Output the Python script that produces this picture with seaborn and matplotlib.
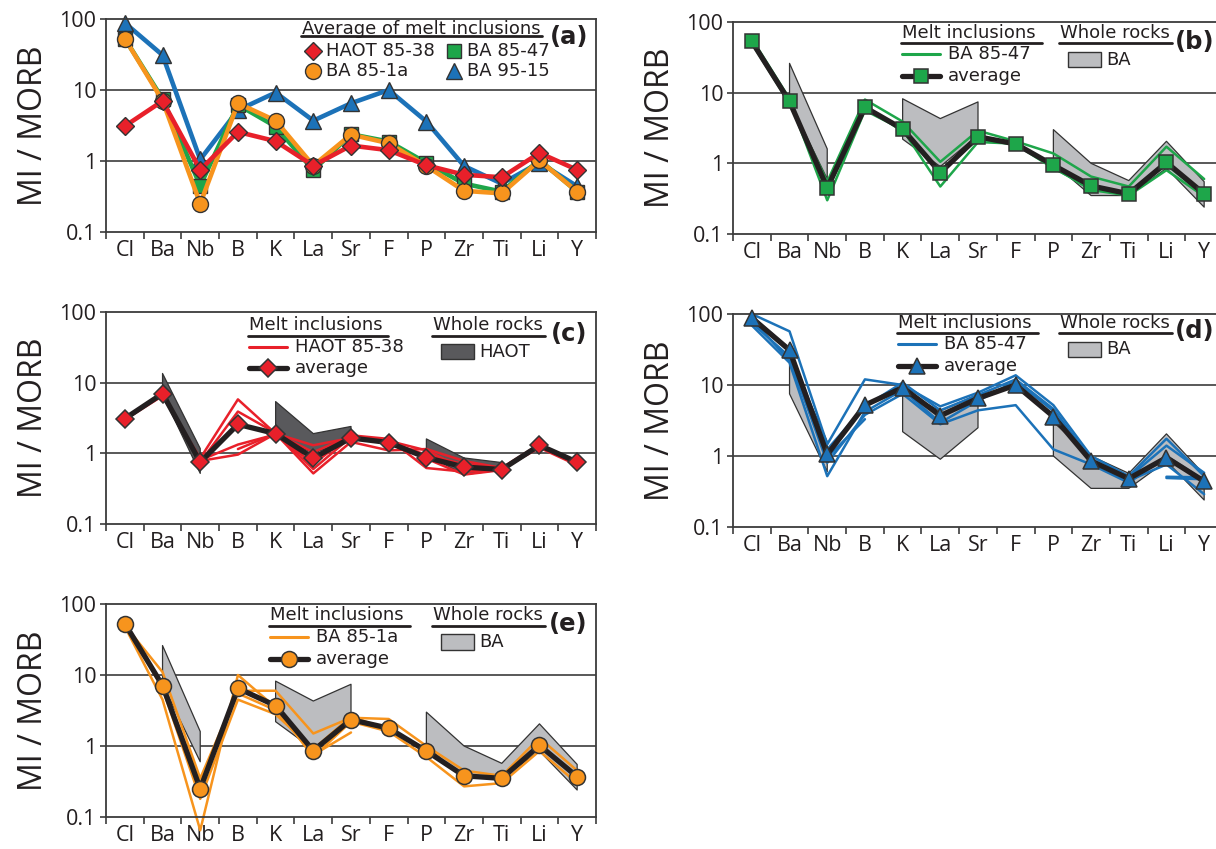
import numpy as np
import matplotlib
matplotlib.use('Agg')
import matplotlib.pyplot as plt
from matplotlib.patches import Rectangle
from matplotlib.lines import Line2D
from matplotlib.ticker import NullLocator
import seaborn as sns

sns.set_theme(style='ticks')
plt.rcParams['font.family'] = ['Open Sans', 'DejaVu Sans']

nan = np.nan

# Elements (x categories)
ELEMENTS = ['Cl', 'Ba', 'Nb', 'B', 'K', 'La', 'Sr', 'F', 'P', 'Zr', 'Ti', 'Li', 'Y']

# Averages of melt inclusions (MI / MORB)
HAOT_85_38_AVG = [3.1, 7.0, 0.75, 2.57, 1.9, 0.86, 1.65, 1.42, 0.87, 0.64, 0.59, 1.3, 0.75]
BA_85_47_AVG = [53, 7.5, 0.45, 6.2, 3.06, 0.74, 2.38, 1.88, 0.94, 0.48, 0.37, 1.03, 0.37]
BA_85_1A_AVG = [53, 7.1, 0.25, 6.5, 3.7, 0.86, 2.35, 1.78, 0.85, 0.38, 0.35, 1.02, 0.37]
BA_95_15_AVG = [88, 31, 1.05, 5.2, 9.2, 3.7, 6.5, 10.0, 3.6, 0.85, 0.48, 0.95, 0.44]

# Individual melt inclusions
BA_85_47_MI = [
    [50, 7.0, 0.55, 8.0, 3.9, 1.05, 2.9, 2.05, 1.38, 0.65, 0.47, 1.72, 0.6],
    [55, 7.8, 0.3, 5.6, 3.0, 0.47, 2.0, 1.9, 0.88, 0.42, 0.35, 0.8, 0.34],
    [58, 8.2, 0.4, 6.5, 2.8, 0.8, 2.2, 1.85, 0.85, 0.45, 0.38, 0.95, 0.36],
]
HAOT_85_38_MI = [
    [3.0, 6.5, 0.85, 5.8, 1.9, 0.52, 1.45, 1.1, 1.15, 0.78, 0.62, 1.35, 0.7],
    [3.1, 7.2, 0.75, 3.9, 1.95, 0.6, 1.7, 1.55, 0.84, 0.5, 0.58, 1.25, 0.75],
    [3.0, 7.0, 0.8, 1.33, 1.85, 0.71, 1.8, 1.6, 0.62, 0.55, 0.6, 1.2, 0.68],
    [3.0, 7.0, 0.78, 0.96, 1.9, 1.3, 1.65, 1.45, 0.95, 0.7, 0.62, 1.3, 0.72],
    [nan, nan, nan, 1.15, 1.9, 1.04, 1.75, 1.5, 1.1, 0.6, 0.6, 1.3, 0.75],
]
BA_95_15_MI = [
    [100, 57, 1.46, 12, 10, 5.0, 7.8, 13.7, 5.2, 1.0, 0.52, 1.75, 0.52],
    [92, 32, 1.24, 5.0, 10.8, 4.4, 7.2, 12, 4.6, 0.9, 0.5, 1.4, 0.58],
    [69, 20.6, 0.52, 4.2, 8.5, 2.95, 6.0, 11.4, 4.3, 0.85, 0.45, 0.76, 0.29],
    [75, 25, 0.8, 3.8, 7.5, 2.8, 4.4, 5.2, 1.24, 0.76, 0.42, 1.0, 0.45],
    [84, 22, 0.95, 3.3, nan, nan, nan, nan, nan, nan, nan, nan, nan],
    [nan, nan, nan, nan, nan, nan, nan, nan, nan, nan, nan, 0.49, 0.47],
    [nan, nan, nan, nan, nan, nan, nan, nan, nan, nan, nan, 0.51, 0.5],
]
BA_85_1A_MI = [
    [50, 11, 0.35, 6.0, 6.0, 1.5, 2.5, 2.4, 1.0, 0.45, 0.38, 1.3, 0.45],
    [48, 4.5, 0.065, 10.0, 3.5, 0.7, 2.2, 1.6, 0.7, 0.27, 0.3, 0.85, 0.3],
    [55, 6.5, 0.18, 4.5, 2.8, 0.9, 2.6, 1.7, 0.9, 0.38, 0.35, 1.05, 0.35],
    [52, 7.5, 0.3, 5.5, 3.2, 0.75, 1.55, nan, nan, nan, nan, nan, nan],
]

# Whole rock ranges (NaN splits the shaded fields)
BA_WR_UPPER = [nan, 26, 1.6, nan, 8.2, 4.3, 7.4, nan, 3.0, 1.0, 0.57, 2.05, 0.55]
BA_WR_LOWER = [nan, 7.5, 0.6, nan, 2.2, 0.9, 2.5, nan, 1.0, 0.35, 0.35, 0.85, 0.24]
HAOT_WR_UPPER = [nan, 13.5, 1.17, nan, 5.4, 1.9, 2.4, nan, 1.6, 0.86, 0.74, nan, nan]
HAOT_WR_LOWER = [nan, 6.8, 0.52, nan, 1.85, 1.0, 1.6, nan, 0.95, 0.5, 0.58, nan, nan]

RED = '#e8202a'
GREEN = '#1ea64a'
ORANGE = '#f7941d'
BLUE = '#1c72b8'
LIGHT_GREY = '#bcbdc0'
DARK_GREY = '#59595c'
INK = '#231f20'
FRAME = '#3c3c3c'
EDGE = '#333333'

W, H = 1216, 849
xpos = np.arange(len(ELEMENTS))

fig = plt.figure(figsize=(W / 100, H / 100), dpi=100)


def make_axes(left, top, bottom, width=490):
    return fig.add_axes([left / W, 1 - bottom / H, width / W, (bottom - top) / H])


def style_axes(ax):
    ax.set_yscale('log')
    ax.set_ylim(0.1, 100)
    ax.set_xlim(-0.5, len(ELEMENTS) - 0.5)
    ax.set_yticks([0.1, 1, 10, 100])
    ax.set_yticklabels(['0.1', '1', '10', '100'])
    ax.yaxis.set_minor_locator(NullLocator())
    ax.set_xticks(np.arange(-0.5, len(ELEMENTS), 1))
    ax.set_xticklabels([])
    ax.set_xticks(xpos, minor=True)
    ax.set_xticklabels(ELEMENTS, minor=True)
    ax.tick_params(axis='x', which='minor', length=0, pad=6, labelsize=15.5, colors=INK)
    ax.tick_params(axis='x', which='major', length=5, width=1.2, color=FRAME)
    ax.tick_params(axis='y', which='major', length=4, width=1.2, pad=3,
                   labelsize=15.5, color=FRAME, labelcolor=INK)
    for s in ax.spines.values():
        s.set_visible(True)
        s.set_color(FRAME)
        s.set_linewidth(1.3)
    for v in (1, 10):
        ax.axhline(v, color=FRAME, lw=1.2, zorder=0.5)
    ax.set_xlabel('')
    ax.set_ylabel('MI / MORB', fontsize=23, color=INK)
    ax.yaxis.set_label_coords(-0.115, 0.5)


def legend_text(ax, x, y, s, **kw):
    ax.text(x, y, s, transform=ax.transAxes, ha='left', va='center',
            fontsize=13, color=INK, family='DejaVu Sans', **kw)


def underline(ax, x0, x1, y):
    ax.add_line(Line2D([x0, x1], [y, y], transform=ax.transAxes, color=INK,
                       lw=2, clip_on=False))


def sub_panel(ax, mi_lines, avg, color, marker, ms, mi_label,
              wr_upper, wr_lower, wr_color, wr_label, tag, mx, ytop):
    # whole rock field
    ax.fill_between(xpos, wr_lower, wr_upper, facecolor=wr_color,
                    edgecolor=EDGE, lw=0.9, zorder=1)
    # single inclusions
    for vals in mi_lines:
        sns.lineplot(x=xpos, y=vals, ax=ax, color=color, lw=1.8, sort=False,
                     zorder=2, clip_on=False)
    # average
    sns.lineplot(x=xpos, y=avg, ax=ax, color=INK, lw=3.8, sort=False, zorder=3,
                 marker=marker, markersize=ms, markerfacecolor=color,
                 markeredgecolor=EDGE, markeredgewidth=1.1, clip_on=False)
    style_axes(ax)

    # legend blocks
    legend_text(ax, mx, ytop, 'Melt inclusions')
    underline(ax, mx - 0.002, mx + 0.285, ytop - 0.048)
    y1, y2 = ytop - 0.1, ytop - 0.203
    ax.add_line(Line2D([mx, mx + 0.078], [y1, y1], transform=ax.transAxes,
                       color=color, lw=2.2))
    legend_text(ax, mx + 0.094, y1, mi_label)
    ax.add_line(Line2D([mx, mx + 0.078], [y2, y2], transform=ax.transAxes,
                       color=INK, lw=3.8))
    ax.add_line(Line2D([mx + 0.039], [y2], transform=ax.transAxes, marker=marker,
                       markersize=ms, markerfacecolor=color, markeredgecolor=EDGE,
                       markeredgewidth=1.1, lw=0))
    legend_text(ax, mx + 0.094, y2, 'average')

    wx = 0.668
    legend_text(ax, wx, ytop, 'Whole rocks')
    underline(ax, wx - 0.002, wx + 0.228, ytop - 0.048)
    yc = ytop - 0.125
    ax.add_patch(Rectangle((wx + 0.016, yc - 0.036), 0.068, 0.072,
                           transform=ax.transAxes, facecolor=wr_color,
                           edgecolor=EDGE, lw=1))
    legend_text(ax, wx + 0.094, yc, wr_label)
    ax.text(0.982, ytop - 0.04, tag, transform=ax.transAxes, ha='right',
            va='center', fontsize=17.5, fontweight='bold', color=INK,
            family='DejaVu Sans')


# ---- panel (a): averages
ax_a = make_axes(106, 19, 232)
avg_series = [
    (BA_95_15_AVG, BLUE, '^', 12, 'BA 95-15'),
    (BA_85_47_AVG, GREEN, 's', 10.5, 'BA 85-47'),
    (BA_85_1A_AVG, ORANGE, 'o', 11.5, 'BA 85-1a'),
    (HAOT_85_38_AVG, RED, 'D', 9.5, 'HAOT 85-38'),
]
for vals, c, m, ms, lab in avg_series:
    sns.lineplot(x=xpos, y=vals, ax=ax_a, color=c, lw=3.3, sort=False,
                 marker=m, markersize=ms, markerfacecolor=c,
                 markeredgecolor=EDGE, markeredgewidth=1.0, clip_on=False)
style_axes(ax_a)

legend_text(ax_a, 0.399, 0.952, 'Average of melt inclusions')
underline(ax_a, 0.397, 0.89, 0.918)
leg_items = [
    (0.423, 0.849, RED, 'D', 9.5, 'HAOT 85-38'),
    (0.710, 0.849, GREEN, 's', 10.5, 'BA 85-47'),
    (0.423, 0.755, ORANGE, 'o', 11.5, 'BA 85-1a'),
    (0.710, 0.755, BLUE, '^', 12, 'BA 95-15'),
]
for x, y, c, m, ms, lab in leg_items:
    ax_a.add_line(Line2D([x], [y], transform=ax_a.transAxes, marker=m,
                         markersize=ms, markerfacecolor=c, markeredgecolor=EDGE,
                         markeredgewidth=1.0, lw=0))
    legend_text(ax_a, x + 0.027, y, lab)
ax_a.text(0.984, 0.914, '(a)', transform=ax_a.transAxes, ha='right', va='center',
          fontsize=17.5, fontweight='bold', color=INK, family='DejaVu Sans')

# ---- panel (b)
ax_b = make_axes(733, 22, 234)
sub_panel(ax_b, BA_85_47_MI, BA_85_47_AVG, GREEN, 's', 10.5, 'BA 85-47',
          BA_WR_UPPER, BA_WR_LOWER, LIGHT_GREY, 'BA', '(b)', 0.345, 0.947)

# ---- panel (c)
ax_c = make_axes(106, 312, 524)
sub_panel(ax_c, HAOT_85_38_MI, HAOT_85_38_AVG, RED, 'D', 9.5, 'HAOT 85-38',
          HAOT_WR_UPPER, HAOT_WR_LOWER, DARK_GREY, 'HAOT', '(c)', 0.291, 0.937)

# ---- panel (d)
ax_d = make_axes(733, 314, 527)
sub_panel(ax_d, BA_95_15_MI, BA_95_15_AVG, BLUE, '^', 12, 'BA 85-47',
          BA_WR_UPPER, BA_WR_LOWER, LIGHT_GREY, 'BA', '(d)', 0.337, 0.959)

# ---- panel (e)
ax_e = make_axes(106, 604, 817)
sub_panel(ax_e, BA_85_1A_MI, BA_85_1A_AVG, ORANGE, 'o', 11.5, 'BA 85-1a',
          BA_WR_UPPER, BA_WR_LOWER, LIGHT_GREY, 'BA', '(e)', 0.335, 0.947)

fig.savefig('out.png', dpi=100)
